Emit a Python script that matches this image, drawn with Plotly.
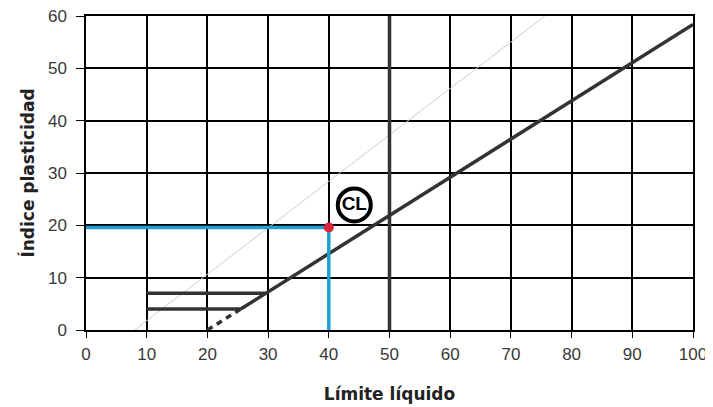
import plotly.graph_objects as go

# Data
a_line_solid_x = [25.5, 100]
a_line_solid_y = [4.0, 58.4]
a_line_dash_x = [20, 25.5]
a_line_dash_y = [0, 4.0]
u_line_x = [8, 75.6]
u_line_y = [0, 60]
h7_x = [10, 29.6]
h7_y = [7, 7]
h4_x = [10, 25.5]
h4_y = [4, 4]
ll50_x = [50, 50]
ll50_y = [0, 60]
sample_ll = 40
sample_pi = 19.6
cl_label_pos = (44.2, 23.9)

x_ticks = [0, 10, 20, 30, 40, 50, 60, 70, 80, 90, 100]
y_ticks = [0, 10, 20, 30, 40, 50, 60]

dark = "#333333"
blue = "#1f9fd2"

fig = go.Figure()

def line(x, y, color, width, dash="solid"):
    fig.add_trace(go.Scatter(x=x, y=y, mode="lines",
                             line=dict(color=color, width=width, dash=dash),
                             showlegend=False, hoverinfo="skip", cliponaxis=False))

line(u_line_x, u_line_y, "#cfcfcf", 1)
line(h7_x, h7_y, dark, 3.5)
line(h4_x, h4_y, dark, 3.5)
line(a_line_dash_x, a_line_dash_y, dark, 3.5, dash="6px,5px")
line(a_line_solid_x, a_line_solid_y, dark, 3.5)
line(ll50_x, ll50_y, dark, 3.5)
line([0, sample_ll], [sample_pi, sample_pi], blue, 3.5)
line([sample_ll, sample_ll], [0, sample_pi], blue, 3.5)

fig.add_trace(go.Scatter(x=[sample_ll], y=[sample_pi], mode="markers",
                         marker=dict(color="#d9263b", size=10),
                         showlegend=False, hoverinfo="skip"))

fig.add_trace(go.Scatter(x=[cl_label_pos[0]], y=[cl_label_pos[1]], mode="markers+text",
                         marker=dict(color="white", size=33,
                                     line=dict(color="black", width=4)),
                         text=["<b>CL</b>"], textposition="middle center",
                         textfont=dict(family="Liberation Sans, Arial", size=19, color="black"),
                         showlegend=False, hoverinfo="skip"))

fig.update_layout(
    width=713, height=407,
    margin=dict(l=78, r=28, t=8, b=85, autoexpand=False),
    plot_bgcolor="white", paper_bgcolor="white",
    font=dict(family="Liberation Sans, Arial", size=17, color="#383838"),
)
fig.update_xaxes(range=[0, 100], tickvals=x_ticks, showgrid=True, gridcolor="black",
                 gridwidth=1.5, zeroline=False, showline=True, linecolor="black", linewidth=1.5,
                 mirror=True, ticks="outside", ticklen=6, tickcolor="black", automargin=False,
                 ticklabeloverflow="allow", ticklabelstandoff=2,
                 title=dict(text="<b>Límite líquido</b>",
                            font=dict(family="DejaVu Sans", size=17, color="#222"), standoff=25))
fig.update_yaxes(range=[0, 60], tickvals=y_ticks, showgrid=True, gridcolor="black",
                 gridwidth=1.5, zeroline=False, showline=True, linecolor="black", linewidth=1.5,
                 mirror=True, ticks="outside", ticklen=8, tickcolor="black", automargin=False,
                 ticklabeloverflow="allow", ticklabelstandoff=6,
                 title=dict(text="<b>Índice plasticidad</b>",
                            font=dict(family="DejaVu Sans", size=17, color="#222"), standoff=9))

fig.write_html("out.html")
